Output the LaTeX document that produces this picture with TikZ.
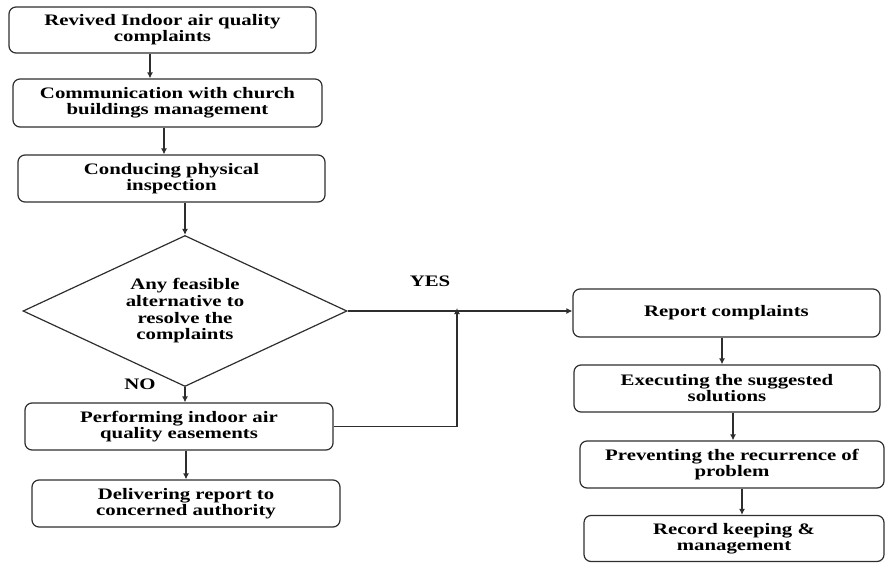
\documentclass[tikz,border=0pt]{standalone}
\usepackage{fontspec}
\setmainfont{Liberation Serif}[FakeStretch=1.3]
\usetikzlibrary{arrows.meta,calc,shapes.geometric,positioning}
\definecolor{edge}{HTML}{2E2E2E}
\tikzset{stepbox/.style={draw=edge, line width=1.2pt, rounded corners=7pt, align=center, inner sep=2pt, font=\fontsize{16}{16}\selectfont\bfseries, text=black}, decide/.style={draw=edge, line width=1.2pt, diamond, aspect=2.146, align=center, inner sep=0pt, font=\fontsize{16}{16.7}\selectfont\bfseries}, flow/.style={-{Latex[length=6pt,width=6pt]}, line width=1.2pt, color=edge}, lab/.style={font=\fontsize{16}{16}\selectfont\bfseries}}

\begin{document}
\begin{tikzpicture}[x=1pt,y=-1pt]
\useasboundingbox (0,0) rectangle (885,562);
% left column
\node[stepbox, minimum width=307, minimum height=46] (recv) at (162.5,30) {Revived Indoor air quality\\complaints};
\node[stepbox, minimum width=309, minimum height=48] (comm) at (167.5,103) {Communication with church\\buildings management};
\node[stepbox, minimum width=307, minimum height=47] (insp) at (171.5,178.5) {Conducing physical\\inspection};
\node[decide, minimum width=324, minimum height=151] (dia) at (185,311) {Any feasible\\alternative to\\resolve the\\complaints};
\node[stepbox, minimum width=308, minimum height=47] (perf) at (179,426.5) {Performing indoor air\\quality easements};
\node[stepbox, minimum width=308, minimum height=47] (deliv) at (186,503.5) {Delivering report to\\concerned authority};
% right column
\node[stepbox, minimum width=307, minimum height=48] (rep) at (726.5,313) {Report complaints};
\node[stepbox, minimum width=306, minimum height=47] (exec) at (727,388.5) {Executing the suggested\\solutions};
\node[stepbox, minimum width=304, minimum height=47] (prev) at (732,464.5) {Preventing the recurrence of\\problem};
\node[stepbox, minimum width=300, minimum height=46] (rec) at (734,538.5) {Record keeping \&\\management};
\coordinate (join) at (457,311);
% arrows
\draw[flow] ([xshift=-12.5pt]recv.south) -- ([xshift=-12.5pt]recv.south |- comm.north);
\draw[flow] ([xshift=-3.5pt]comm.south) -- ([xshift=-3.5pt]comm.south |- insp.north);
\draw[flow] (insp.south -| dia.north) -- (dia.north);
\draw[flow] (dia.south) -- (dia.south |- perf.north);
\draw[flow] (perf.south -| deliv.north) -- (deliv.north);
\draw[flow] (dia.east) -- (dia.east -| rep.west);
\draw[flow] (perf.east) -| ([yshift=3pt]join);
\draw[flow] ([xshift=-4.5pt]rep.south) -- ([xshift=-4.5pt]rep.south |- exec.north);
\draw[flow] ([xshift=6pt]exec.south) -- ([xshift=6pt]exec.south |- prev.north);
\draw[flow] ([xshift=10pt]prev.south) -- ([xshift=10pt]prev.south |- rec.north);
\node[lab] (yes) at (430,281) {YES};
\node[lab] (no) at (140,384) {NO};
\end{tikzpicture}
\end{document}
